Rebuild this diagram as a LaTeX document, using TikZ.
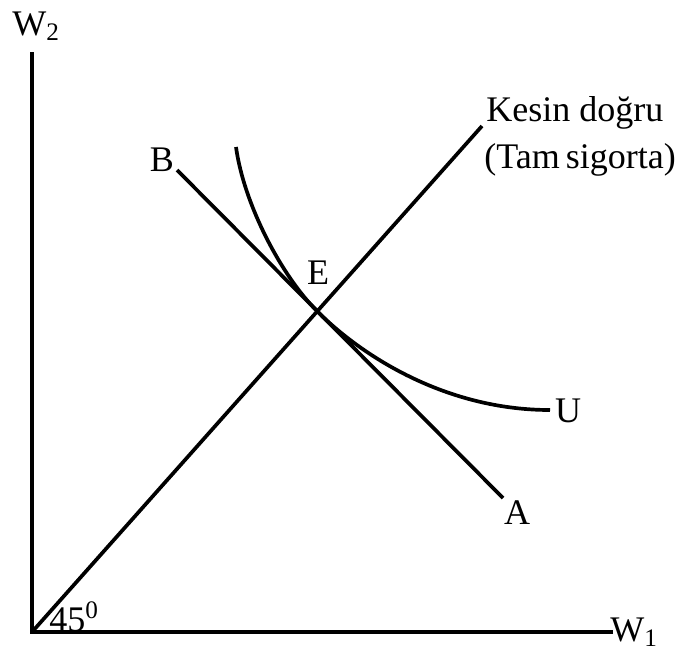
\documentclass[tikz,border=0pt]{standalone}
\usepackage{fontspec}
\setmainfont{Liberation Serif}
\begin{document}
\begin{tikzpicture}[x=0.02cm,y=-0.02cm,
  curve/.style={line width=2.1pt},
  lbl/.style={inner sep=0pt,font=\fontsize{20.5}{24}\selectfont}]
\useasboundingbox (0,0) rectangle (683,650);
\coordinate (O) at (32,632);
\coordinate (Ytop) at (32,52);
\coordinate (Xend) at (613,632);
\coordinate (Ktop) at (482,126);
\coordinate (Bend) at (177,170);
\coordinate (Aend) at (503,498);
\coordinate (E) at (316,310);
\coordinate (Utop) at (236,147);
\coordinate (Uend) at (550,410);
\draw[curve] (Ytop) -- (O) -- (Xend);
\draw[curve] (O) -- (Ktop);
\draw[curve] (Bend) -- (Aend);
\draw[curve] (Utop) .. controls (244,205) and (282,276) .. (E)
  .. controls (355,350) and (440,410) .. (Uend);
\node[lbl] (w2) at (36,26) {W\textsubscript{2}};
\node[lbl] (w1) at (634,632) {W\textsubscript{1}};
\node[lbl] (b) at (162,160) {B};
\node[lbl] (e) at (318,273) {E};
\node[lbl] (u) at (568,411) {U};
\node[lbl] (a) at (517,513) {A};
\node[lbl,anchor=west] (k) at (486,113) {Kesin doğru};
\node[lbl,anchor=west] (t) at (484,160) {(Tam\,sigorta)};
\node[lbl] (deg) at (74,617) {45\textsuperscript{0}};
\end{tikzpicture}
\end{document}
